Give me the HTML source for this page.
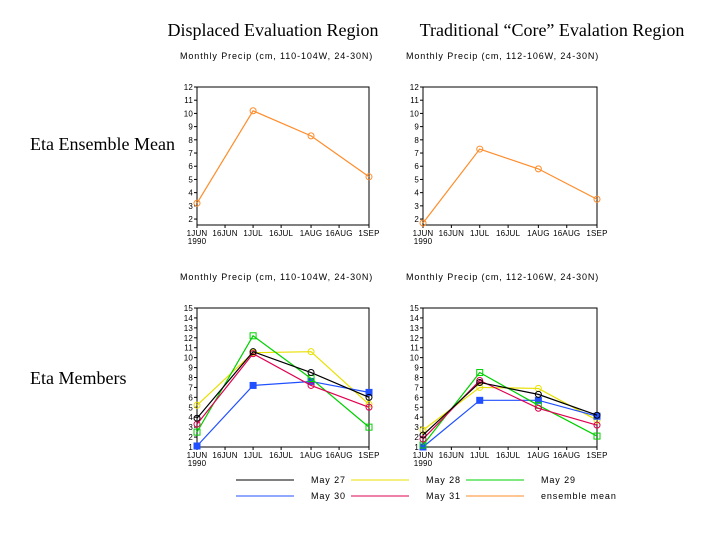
<!DOCTYPE html>
<html><head><meta charset="utf-8"><style>
body{margin:0;background:#fff;width:720px;height:540px;overflow:hidden}
svg{display:block}
.t{font-family:"Liberation Serif",serif;font-size:18px}
.s{font-family:"Liberation Sans",sans-serif;font-size:9px;letter-spacing:0.9px}
.k{font-family:"Liberation Sans",sans-serif;font-size:8px;letter-spacing:0.2px}
</style></head><body>
<svg id="c" width="720" height="540" xmlns="http://www.w3.org/2000/svg">
<text class="t" x="273" y="36" text-anchor="middle">Displaced Evaluation Region</text>
<text class="t" x="552" y="36" text-anchor="middle">Traditional “Core” Evalation Region</text>
<text class="t" x="30" y="150">Eta Ensemble Mean</text>
<text class="t" x="30" y="384">Eta Members</text>
</svg>
<script>
const days=[0,30,61,92];
const tickDays=[0,15,30,45,61,76,92];
const tickLabels=["1JUN","16JUN","1JUL","16JUL","1AUG","16AUG","1SEP"];
const meanLeft=[3.2,10.2,8.3,5.2];
const meanRight=[1.7,7.3,5.8,3.5];
const memBlackL=[3.9,10.6,8.5,6.0];
const memYellowL=[5.2,10.5,10.6,5.3];
const memGreenL=[2.5,12.2,7.9,3.0];
const memBlueL=[1.1,7.2,7.6,6.5];
const memPinkL=[3.3,10.4,7.2,5.0];
const memBlackR=[2.2,7.5,6.3,4.2];
const memYellowR=[2.7,7.0,6.9,3.7];
const memGreenR=[1.2,8.5,5.2,2.1];
const memBlueR=[1.0,5.7,5.7,4.1];
const memPinkR=[1.8,7.7,4.9,3.2];
const legendLabels=["May 27","May 28","May 29","May 30","May 31","ensemble mean"];

const svg=document.getElementById('c');const NS="http://www.w3.org/2000/svg";
function mk(tag,a,p){const e=document.createElementNS(NS,tag);for(const k in a)e.setAttribute(k,a[k]);(p||svg).appendChild(e);return e;}
function panel(name,x0,x1,yTop,yBot,vMax,vMin,ticks,sub,series){
  const g=mk('g',{});
  
  
  const X=d=>x0+(x1-x0)*d/92, Y=v=>yBot-(yBot-yTop)*(v-vMin)/(vMax-vMin);
  const st=mk('text',{x:x0-17,y:yTop-28,class:'s'},g);st.textContent=sub;
  
  
  mk('rect',{x:x0,y:yTop,width:x1-x0,height:yBot-yTop,fill:'none',stroke:'#000','stroke-width':1},g);
  ticks.forEach(v=>{const y=Y(v);mk('line',{x1:x0-3,x2:x0,y1:y,y2:y,stroke:'#000'},g);
    const t=mk('text',{x:x0-4,y:y+3,class:'k','text-anchor':'end'},g);t.textContent=v;
    
    });
  tickDays.forEach((d,i)=>{const x=X(d);mk('line',{x1:x,x2:x,y1:yBot,y2:yBot+3,stroke:'#000'},g);
    const t=mk('text',{x:x,y:yBot+11,class:'k','text-anchor':'middle'},g);t.textContent=tickLabels[i];
    
    });
  const yr=mk('text',{x:x0,y:yBot+19,class:'k','text-anchor':'middle'},g);yr.textContent="1990";
  
  
  series.forEach(s=>{
    const pl=mk('polyline',{points:s.v.map((v,i)=>X(days[i])+','+Y(v)).join(' '),fill:'none',stroke:s.c,'stroke-width':1.2},g);
    
    
    s.v.forEach((v,i)=>{const x=X(days[i]),y=Y(v);let m;
      if(s.m==='sq')m=mk('rect',{x:x-3,y:y-3,width:6,height:6,fill:s.f||'none',stroke:s.c},g);
      else m=mk('circle',{cx:x,cy:y,r:3,fill:'none',stroke:s.c},g);
      
      });
  });
}
const t12=[2,3,4,5,6,7,8,9,10,11,12], t15=[1,2,3,4,5,6,7,8,9,10,11,12,13,14,15];
panel('chart-mean-displaced',197,369,87,225,12,1.55,t12,"Monthly Precip (cm, 110-104W, 24-30N)",[{v:meanLeft,c:'#ff8c2a',n:'ensemble-mean'}]);
panel('chart-mean-core',423,597,87,225,12,1.55,t12,"Monthly Precip (cm, 112-106W, 24-30N)",[{v:meanRight,c:'#ff8c2a',n:'ensemble-mean'}]);
panel('chart-members-displaced',197,369,308,447,15,1,t15,"Monthly Precip (cm, 110-104W, 24-30N)",[
 {v:memYellowL,c:'#e8e000',n:'may-28'},{v:memBlueL,c:'#2050ff',n:'may-30',m:'sq',f:'#2050ff'},
 {v:memGreenL,c:'#00d000',n:'may-29',m:'sq'},{v:memPinkL,c:'#e00050',n:'may-31'},{v:memBlackL,c:'#000',n:'may-27'}]);
panel('chart-members-core',423,597,308,447,15,1,t15,"Monthly Precip (cm, 112-106W, 24-30N)",[
 {v:memYellowR,c:'#e8e000',n:'may-28'},{v:memBlueR,c:'#2050ff',n:'may-30',m:'sq',f:'#2050ff'},
 {v:memGreenR,c:'#00d000',n:'may-29',m:'sq'},{v:memPinkR,c:'#e00050',n:'may-31'},{v:memBlackR,c:'#000',n:'may-27'}]);
const lc=['#000','#e8e000','#00d000','#2050ff','#e00050','#ff8c2a'];
legendLabels.forEach((l,i)=>{const r=Math.floor(i/3),c=i%3;const y=480+r*16;const x=236+c*115;
  const ln=mk('line',{x1:x,x2:x+58,y1:y,y2:y,stroke:lc[i]});
  
  
  const t=mk('text',{x:x+75,y:y+3,class:'s'});t.textContent=l;
  
  });
</script>
</body></html>
